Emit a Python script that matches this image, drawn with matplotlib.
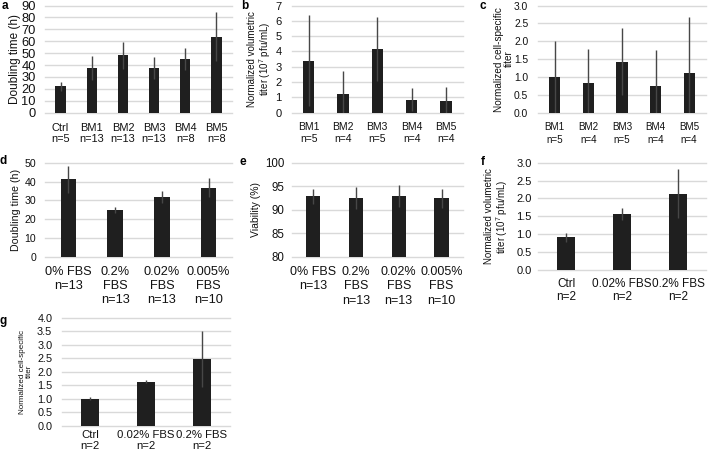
import numpy as np
import matplotlib
matplotlib.use('Agg')
import matplotlib.pyplot as plt

plt.rcParams['font.family'] = ['Liberation Sans', 'DejaVu Sans']
plt.rcParams['mathtext.fontset'] = 'custom'
plt.rcParams['mathtext.rm'] = 'Liberation Sans'
plt.rcParams['mathtext.it'] = 'Liberation Sans:italic'

W, H = 708, 455

# ---- data ----
a_labels = ['Ctrl\nn=5', 'BM1\nn=13', 'BM2\nn=13', 'BM3\nn=13', 'BM4\nn=8', 'BM5\nn=8']
a_values = [22.1, 37.8, 48.2, 37.3, 45.1, 63.9]
a_errors = [3.5, 10.0, 11.5, 9.2, 9.0, 20.5]

b_labels = ['BM1\nn=5', 'BM2\nn=4', 'BM3\nn=5', 'BM4\nn=4', 'BM5\nn=4']
b_values = [3.38, 1.24, 4.17, 0.85, 0.78]
b_errors = [2.97, 1.46, 2.07, 0.77, 0.91]

c_labels = ['BM1\nn=5', 'BM2\nn=4', 'BM3\nn=5', 'BM4\nn=4', 'BM5\nn=4']
c_values = [1.00, 0.82, 1.43, 0.75, 1.11]
c_errors = [1.02, 0.95, 0.93, 1.00, 1.56]

fbs_labels = ['0% FBS\nn=13', '0.2%\nFBS\nn=13', '0.02%\nFBS\nn=13', '0.005%\nFBS\nn=10']
d_values = [41.1, 24.8, 31.6, 36.7]
d_errors = [7.3, 1.8, 3.3, 5.2]

e_values = [92.9, 92.55, 92.9, 92.45]
e_errors = [1.6, 2.35, 2.3, 2.0]

fg_labels = ['Ctrl\nn=2', '0.02% FBS\nn=2', '0.2% FBS\nn=2']
f_values = [0.91, 1.57, 2.13]
f_errors = [0.12, 0.17, 0.69]

g_values = [1.00, 1.63, 2.46]
g_errors = [0.06, 0.05, 1.04]

BAR = '#1f1f1f'
ERR = '#474747'
GRID = '#d9d9d9'
TXT = '#111111'
NARROW = ['Liberation Sans Narrow', 'Liberation Sans', 'DejaVu Sans']
REGULAR = ['Liberation Sans', 'DejaVu Sans']

fig = plt.figure(figsize=(W / 100, H / 100), dpi=100)


def px_axes(left, top, right, bottom):
    return fig.add_axes([left / W, 1 - bottom / H, (right - left) / W, (bottom - top) / H])


def panel(letter, letter_xy, box, labels, values, errors, ylabel, ylim, step, fmt,
          tick_font, cat_font, ylab_fs, xpad, ypad, ylab_right, spacing):
    ax = px_axes(*box)
    x = np.arange(len(values))
    ax.bar(x, values, width=0.33, color=BAR, zorder=2,
           yerr=errors, error_kw=dict(ecolor=ERR, elinewidth=1.0, capsize=0, zorder=3))
    ax.set_xlim(-0.5, len(values) - 0.5)
    ax.set_ylim(*ylim)
    ticks = np.arange(ylim[0], ylim[1] + step / 2, step)
    ax.set_yticks(ticks)
    ax.set_yticklabels([fmt % t for t in ticks], family=tick_font[0], fontsize=tick_font[1])
    ax.set_xticks(x)
    ax.set_xticklabels(labels, family=cat_font[0], fontsize=cat_font[1], linespacing=spacing)
    ax.tick_params(length=0, colors=TXT)
    ax.tick_params(axis='x', pad=xpad)
    ax.tick_params(axis='y', pad=ypad)
    ax.yaxis.grid(True, color=GRID, lw=1.0)
    for gl in ax.get_ygridlines():
        gl.set_clip_on(False)
    ax.set_axisbelow(True)
    for s in ax.spines.values():
        s.set_visible(False)
    ax.set_ylabel(ylabel, fontsize=ylab_fs, linespacing=1.0, color=TXT)
    ax.yaxis.set_label_coords((ylab_right - box[0]) / (box[2] - box[0]), 0.5)
    fig.text(letter_xy[0] / W, 1 - letter_xy[1] / H, letter, fontsize=8.5,
             fontweight='bold', ha='left', va='center')
    return ax


vol_label = 'Normalized volumetric\ntiter (10$^{7}$ pfu/mL)'
cell_label = 'Normalized cell-specific\ntiter'

panel('a', (2, 6), (45, 5.5, 232, 112.7), a_labels, a_values, a_errors,
      'Doubling time (h)', (0, 90), 10, '%d', (NARROW, 9.3), (NARROW, 7.9), 8.5,
      7.4, 6.5, 21, 1.16)
panel('b', (241, 6), (291.5, 5.5, 463, 112.7), b_labels, b_values, b_errors,
      vol_label, (0, 7), 1, '%d', (NARROW, 8.0), (NARROW, 7.5), 7.0,
      6.5, 7.0, 273, 1.3)
panel('c', (480, 6), (538, 5.5, 706, 112.7), c_labels, c_values, c_errors,
      cell_label, (0, 3), 0.5, '%.1f', (NARROW, 7.4), (NARROW, 7.1), 7.2,
      6.5, 7.0, 514, 1.38)
panel('d', (0, 161), (45, 162.7, 232, 256.7), fbs_labels, d_values, d_errors,
      'Doubling time (h)', (0, 50), 10, '%d', (REGULAR, 7.6), (NARROW, 9.2), 7.7,
      6.5, 6.5, 21, 1.25)
panel('e', (240, 162), (291.5, 162.7, 463, 256.7), fbs_labels, e_values, e_errors,
      'Viability (%)', (80, 100), 5, '%d', (REGULAR, 8.3), (NARROW, 9.0), 7.5,
      6.7, 4.8, 261, 1.25)
panel('f', (481, 162), (538, 162.7, 706, 270), fg_labels, f_values, f_errors,
      vol_label, (0, 3), 0.5, '%.1f', (REGULAR, 8.0), (NARROW, 8.5), 7.0,
      5.5, 4.5, 510, 1.15)
panel('g', (0, 321), (62, 318, 230, 425.5), fg_labels, g_values, g_errors,
      cell_label, (0, 4), 0.5, '%.1f', (REGULAR, 7.8), (NARROW, 8.2), 5.8,
      3.5, 7.0, 33, 1.05)

fig.savefig('out.png', dpi=100, facecolor='white')
